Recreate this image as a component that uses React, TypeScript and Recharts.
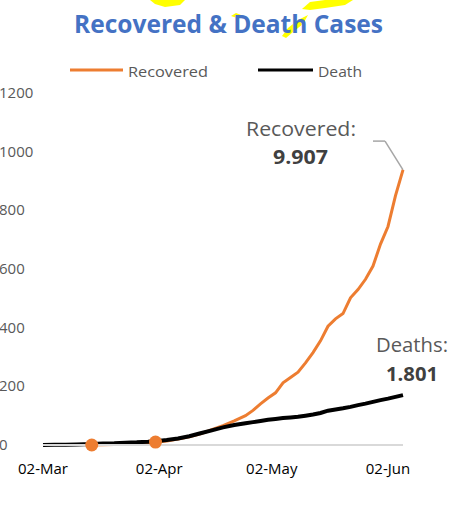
import { LineChart, Line, XAxis, YAxis, ReferenceLine } from "recharts";

const days = [0, 3, 6, 9, 13, 16, 19, 22, 25, 28, 30, 33, 36, 39, 42, 45, 48, 51, 54, 56, 58, 60, 62, 64, 66, 68, 70, 72, 74, 76, 78, 80, 82, 84, 86, 88, 90, 92, 94, 96];
const recovered = [null, null, null, null, 0, 1, 2, 3, 5, 8, 10, 14, 20, 28, 38, 52, 66, 82, 100, 118, 140, 160, 178, 212, 230, 248, 280, 315, 355, 405, 430, 448, 502, 530, 565, 610, 685, 745, 850, 938];
const deaths = [0, 1, 1, 2, 3, 5, 6, 8, 9, 11, 13, 17, 22, 30, 40, 50, 60, 68, 74, 78, 82, 86, 89, 92, 94, 96, 100, 104, 109, 117, 121, 125, 130, 136, 141, 147, 153, 158, 164, 170];
const markerDays = [13, 30];

const xTicks = [0, 31, 61, 92];
const xTickLabels = ["02-Mar", "02-Apr", "02-May", "02-Jun"];
const yTicks = [0, 200, 400, 600, 800, 1000, 1200];
const yTickLabels = ["0", "200", "400", "600", "800", "1000", "1200"];

const data = days.map((d, i) => ({ day: d, recovered: recovered[i], deaths: deaths[i] }));

const FONT = "'Open Sans', sans-serif";
const ORANGE = "#ED7D31";
const GRAY = "#595959";

const YTick = ({ y, payload }: any) => {
  const i = yTicks.indexOf(payload.value);
  return (
    <text x={-1} y={y} dy={5} textAnchor="start" fill={GRAY} fontSize={15} fontFamily={FONT}>
      {yTickLabels[i]}
    </text>
  );
};

const RecDot = (props: any) => {
  const { cx, cy, payload, index } = props;
  if (!markerDays.includes(payload.day)) return <g key={"d" + index} />;
  return <circle key={"d" + index} cx={cx} cy={cy} r={6.5} fill={ORANGE} />;
};

export default function App() {
  return (
    <div style={{ position: "absolute", left: 0, top: 0, width: 463, height: 519, background: "#fff" }}>
      <svg width={463} height={519} style={{ position: "absolute", left: 0, top: 0 }}>
        <path d="M150,0 L185,0 L180,5 L165,7 L155,4 Z" fill="#FFFF00" />
        <path d="M302,9 L310,2 L325,0 L353,0 L345,5 L325,8 L310,10 Z" fill="#FFFF00" />
        <path d="M231,16 L236,13 L241,15 L237,18 Z" fill="#FFFF00" />
        <path d="M282,36 L288,28 L298,20 L308,15 L303,24 L293,32 L286,38 Z" fill="#FFFF00" />
      </svg>
      <div style={{ position: "absolute", left: 0, top: 0 }}>
        <LineChart width={463} height={519} data={data} margin={{ top: 93, right: 60, left: 0, bottom: 44 }}>
          <XAxis
            dataKey="day"
            type="number"
            domain={[0, 96]}
            ticks={xTicks}
            tickFormatter={(v: number) => xTickLabels[xTicks.indexOf(v)]}
            tickLine={false}
            axisLine={{ stroke: "#D9D9D9", strokeWidth: 2 }}
            tick={{ fill: "#000", fontSize: 15, fontFamily: FONT }}
            tickMargin={12}
            height={30}
            interval={0}
          />
          <YAxis
            type="number"
            domain={[0, 1200]}
            ticks={yTicks}
            tick={<YTick />}
            axisLine={false}
            tickLine={false}
            width={43}
            interval={0}
          />
          <ReferenceLine segment={[{ x: 88, y: 1036 }, { x: 91.2, y: 1036 }]} stroke="#A6A6A6" strokeWidth={1.5} />
          <ReferenceLine segment={[{ x: 91.2, y: 1036 }, { x: 96, y: 938 }]} stroke="#A6A6A6" strokeWidth={1.5} />
          <Line
            dataKey="recovered"
            stroke={ORANGE}
            strokeWidth={3}
            dot={RecDot}
            activeDot={false}
            isAnimationActive={false}
            type="linear"
          />
          <Line
            dataKey="deaths"
            stroke="#000"
            strokeWidth={4}
            dot={false}
            activeDot={false}
            isAnimationActive={false}
            type="linear"
          />
        </LineChart>
      </div>
      <svg width={463} height={519} style={{ position: "absolute", left: 0, top: 0, pointerEvents: "none" }}>
        <text x={74} y={33} textLength={309} lengthAdjust="spacingAndGlyphs" fill="#4472C4" fontSize={25} fontWeight="bold" fontFamily={FONT}>
          Recovered &amp; Death Cases
        </text>
        <line x1={70} y1={70} x2={123} y2={70} stroke={ORANGE} strokeWidth={3} />
        <text x={128} y={77} textLength={80} lengthAdjust="spacingAndGlyphs" fill={GRAY} fontSize={15} fontFamily={FONT}>Recovered</text>
        <line x1={258} y1={70} x2={313} y2={70} stroke="#000" strokeWidth={3} />
        <text x={318} y={77} textLength={44} lengthAdjust="spacingAndGlyphs" fill={GRAY} fontSize={15} fontFamily={FONT}>Death</text>
        <text x={246} y={136} textLength={110} lengthAdjust="spacingAndGlyphs" fill={GRAY} fontSize={20} fontFamily={FONT}>Recovered:</text>
        <text x={273} y={164} textLength={55} lengthAdjust="spacingAndGlyphs" fill="#404040" fontSize={20} fontWeight="bold" fontFamily={FONT}>9.907</text>
        <text x={376} y={352} textLength={72} lengthAdjust="spacingAndGlyphs" fill={GRAY} fontSize={20} fontFamily={FONT}>Deaths:</text>
        <text x={386} y={381} textLength={52} lengthAdjust="spacingAndGlyphs" fill="#404040" fontSize={20} fontWeight="bold" fontFamily={FONT}>1.801</text>
      </svg>
    </div>
  );
}
